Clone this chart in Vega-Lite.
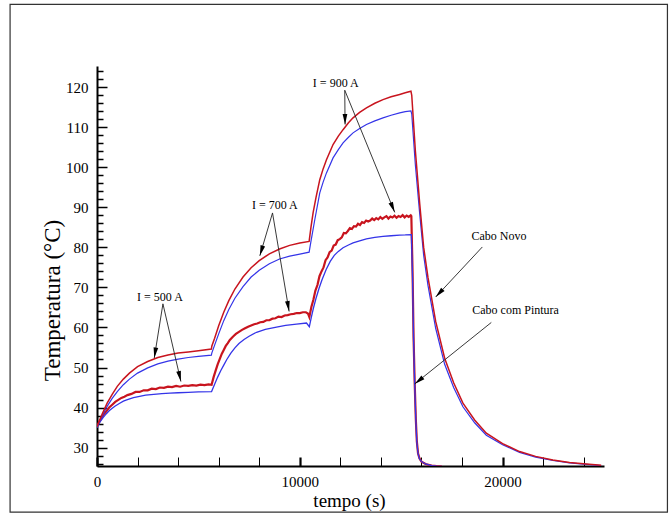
{
  "$schema": "https://vega.github.io/schema/vega-lite/v6.json",
  "width": 507,
  "height": 400,
  "autosize": "none",
  "padding": {"left": 97, "top": 66, "right": 66, "bottom": 51},
  "background": "white",
  "config": {"view": {"stroke": null}, "font": "Liberation Serif"},
  "datasets": {
    "curves": [
      {"s":"nr","t":0,"T":35.2},{"s":"nr","t":250,"T":38.3},{"s":"nr","t":500,"T":41.1},{"s":"nr","t":750,"T":43.3},{"s":"nr","t":1000,"T":45.3},{"s":"nr","t":1300,"T":47.1},{"s":"nr","t":1600,"T":48.6},{"s":"nr","t":2000,"T":50.2},{"s":"nr","t":2500,"T":51.5},{"s":"nr","t":3000,"T":52.5},{"s":"nr","t":3500,"T":53.1},{"s":"nr","t":4000,"T":53.6},{"s":"nr","t":4500,"T":53.9},{"s":"nr","t":5000,"T":54.2},{"s":"nr","t":5640,"T":54.6},
      {"s":"nr","t":5660,"T":55.3},{"s":"nr","t":5800,"T":57.3},{"s":"nr","t":6000,"T":60.4},{"s":"nr","t":6250,"T":63.8},{"s":"nr","t":6500,"T":66.7},{"s":"nr","t":6800,"T":69.6},{"s":"nr","t":7200,"T":72.6},{"s":"nr","t":7600,"T":74.9},{"s":"nr","t":8000,"T":76.7},{"s":"nr","t":8500,"T":78.4},{"s":"nr","t":9000,"T":79.6},{"s":"nr","t":9500,"T":80.5},{"s":"nr","t":10000,"T":81.1},{"s":"nr","t":10460,"T":81.5},
      {"s":"nr","t":10550,"T":85.0},{"s":"nr","t":10655,"T":88.6},{"s":"nr","t":10800,"T":92.5},{"s":"nr","t":10985,"T":96.9},{"s":"nr","t":11150,"T":99.6},{"s":"nr","t":11315,"T":101.9},{"s":"nr","t":11640,"T":105.7},{"s":"nr","t":11900,"T":107.8},{"s":"nr","t":12133,"T":109.4},{"s":"nr","t":12400,"T":111.1},{"s":"nr","t":12626,"T":112.35},{"s":"nr","t":12950,"T":113.7},{"s":"nr","t":13286,"T":114.85},{"s":"nr","t":13700,"T":116.0},{"s":"nr","t":14103,"T":116.9},{"s":"nr","t":14500,"T":117.6},{"s":"nr","t":14926,"T":118.2},{"s":"nr","t":15200,"T":118.6},{"s":"nr","t":15480,"T":119.0},
      {"s":"nr","t":15520,"T":118.0},{"s":"nr","t":15700,"T":104.0},{"s":"nr","t":15911,"T":91.0},{"s":"nr","t":16108,"T":80.0},{"s":"nr","t":16320,"T":72.5},{"s":"nr","t":16700,"T":61.5},{"s":"nr","t":17143,"T":52.3},{"s":"nr","t":17586,"T":46.2},{"s":"nr","t":18044,"T":41.1},{"s":"nr","t":18621,"T":36.9},{"s":"nr","t":19197,"T":33.6},{"s":"nr","t":20000,"T":31.0},{"s":"nr","t":20837,"T":29.0},{"s":"nr","t":21626,"T":27.8},{"s":"nr","t":22478,"T":26.9},{"s":"nr","t":23300,"T":26.3},{"s":"nr","t":24123,"T":25.9},{"s":"nr","t":24862,"T":25.6},

      {"s":"nb","t":0,"T":35.0},{"s":"nb","t":250,"T":37.8},{"s":"nb","t":500,"T":40.3},{"s":"nb","t":750,"T":42.3},{"s":"nb","t":1000,"T":44.0},{"s":"nb","t":1300,"T":45.7},{"s":"nb","t":1600,"T":47.1},{"s":"nb","t":2000,"T":48.6},{"s":"nb","t":2500,"T":49.9},{"s":"nb","t":3000,"T":50.9},{"s":"nb","t":3500,"T":51.6},{"s":"nb","t":4000,"T":52.1},{"s":"nb","t":4500,"T":52.5},{"s":"nb","t":5000,"T":52.8},{"s":"nb","t":5640,"T":53.1},
      {"s":"nb","t":5660,"T":53.6},{"s":"nb","t":5800,"T":55.6},{"s":"nb","t":6000,"T":58.4},{"s":"nb","t":6250,"T":61.7},{"s":"nb","t":6500,"T":64.5},{"s":"nb","t":6800,"T":67.3},{"s":"nb","t":7200,"T":70.2},{"s":"nb","t":7600,"T":72.6},{"s":"nb","t":8000,"T":74.3},{"s":"nb","t":8500,"T":75.9},{"s":"nb","t":9000,"T":77.1},{"s":"nb","t":9500,"T":77.8},{"s":"nb","t":10000,"T":78.3},{"s":"nb","t":10460,"T":78.8},
      {"s":"nb","t":10550,"T":81.5},{"s":"nb","t":10739,"T":86.9},{"s":"nb","t":10985,"T":93.6},{"s":"nb","t":11150,"T":96.3},{"s":"nb","t":11315,"T":98.6},{"s":"nb","t":11640,"T":102.35},{"s":"nb","t":11900,"T":104.4},{"s":"nb","t":12133,"T":106.1},{"s":"nb","t":12400,"T":107.5},{"s":"nb","t":12626,"T":108.6},{"s":"nb","t":12950,"T":109.7},{"s":"nb","t":13286,"T":110.7},{"s":"nb","t":13700,"T":111.6},{"s":"nb","t":14103,"T":112.35},{"s":"nb","t":14500,"T":113.0},{"s":"nb","t":14926,"T":113.6},{"s":"nb","t":15200,"T":113.9},{"s":"nb","t":15480,"T":114.1},
      {"s":"nb","t":15520,"T":113.3},{"s":"nb","t":15700,"T":100.5},{"s":"nb","t":15911,"T":88.5},{"s":"nb","t":16108,"T":78.0},{"s":"nb","t":16320,"T":70.5},{"s":"nb","t":16700,"T":59.8},{"s":"nb","t":17143,"T":50.8},{"s":"nb","t":17586,"T":45.0},{"s":"nb","t":18044,"T":40.2},{"s":"nb","t":18621,"T":36.2},{"s":"nb","t":19197,"T":33.1},{"s":"nb","t":20000,"T":30.7},{"s":"nb","t":20837,"T":28.8},{"s":"nb","t":21626,"T":27.6},{"s":"nb","t":22478,"T":26.8},{"s":"nb","t":23300,"T":26.2},{"s":"nb","t":24123,"T":25.8},{"s":"nb","t":24862,"T":25.5},

      {"s":"pr","t":0,"T":35.3},{"s":"pr","t":150,"T":36.8},{"s":"pr","t":300,"T":38.1},{"s":"pr","t":450,"T":39.0},{"s":"pr","t":600,"T":40.0},{"s":"pr","t":750,"T":40.7},{"s":"pr","t":900,"T":41.4},{"s":"pr","t":1050,"T":41.9},{"s":"pr","t":1200,"T":42.4},{"s":"pr","t":1350,"T":42.7},{"s":"pr","t":1500,"T":43.1},{"s":"pr","t":1700,"T":43.4},{"s":"pr","t":1900,"T":43.9},{"s":"pr","t":2100,"T":43.9},{"s":"pr","t":2300,"T":44.3},{"s":"pr","t":2500,"T":44.3},{"s":"pr","t":2700,"T":44.7},{"s":"pr","t":2900,"T":44.6},{"s":"pr","t":3100,"T":45.0},{"s":"pr","t":3300,"T":44.9},{"s":"pr","t":3500,"T":45.2},{"s":"pr","t":3700,"T":45.1},{"s":"pr","t":3900,"T":45.4},{"s":"pr","t":4100,"T":45.2},{"s":"pr","t":4300,"T":45.5},{"s":"pr","t":4500,"T":45.4},{"s":"pr","t":4700,"T":45.6},{"s":"pr","t":4900,"T":45.5},{"s":"pr","t":5100,"T":45.7},{"s":"pr","t":5300,"T":45.6},{"s":"pr","t":5500,"T":45.8},{"s":"pr","t":5650,"T":45.7},
      {"s":"pr","t":5750,"T":47.6},{"s":"pr","t":5850,"T":49.2},{"s":"pr","t":5950,"T":50.8},{"s":"pr","t":6050,"T":52.1},{"s":"pr","t":6150,"T":53.4},{"s":"pr","t":6250,"T":54.4},{"s":"pr","t":6350,"T":55.4},{"s":"pr","t":6450,"T":56.1},{"s":"pr","t":6550,"T":56.9},{"s":"pr","t":6700,"T":57.7},{"s":"pr","t":6850,"T":58.4},{"s":"pr","t":7000,"T":58.9},{"s":"pr","t":7150,"T":59.4},{"s":"pr","t":7300,"T":59.8},{"s":"pr","t":7450,"T":60.2},{"s":"pr","t":7600,"T":60.5},{"s":"pr","t":7750,"T":60.8},{"s":"pr","t":7900,"T":61.0},{"s":"pr","t":8050,"T":61.3},{"s":"pr","t":8200,"T":61.4},{"s":"pr","t":8350,"T":61.8},{"s":"pr","t":8500,"T":61.8},{"s":"pr","t":8650,"T":62.2},{"s":"pr","t":8800,"T":62.3},{"s":"pr","t":8950,"T":62.7},{"s":"pr","t":9100,"T":62.6},{"s":"pr","t":9250,"T":63.0},{"s":"pr","t":9400,"T":63.1},{"s":"pr","t":9550,"T":63.3},{"s":"pr","t":9700,"T":63.4},{"s":"pr","t":9850,"T":63.6},{"s":"pr","t":10000,"T":63.6},{"s":"pr","t":10150,"T":63.8},{"s":"pr","t":10300,"T":63.8},{"s":"pr","t":10400,"T":63.5},{"s":"pr","t":10470,"T":62.6},
      {"s":"pr","t":10570,"T":65.1},{"s":"pr","t":10670,"T":66.9},{"s":"pr","t":10770,"T":69.2},{"s":"pr","t":10870,"T":70.6},{"s":"pr","t":10970,"T":72.8},{"s":"pr","t":11070,"T":74.0},{"s":"pr","t":11170,"T":75.0},{"s":"pr","t":11270,"T":76.8},{"s":"pr","t":11370,"T":77.5},{"s":"pr","t":11470,"T":78.8},{"s":"pr","t":11570,"T":79.2},{"s":"pr","t":11670,"T":80.45},{"s":"pr","t":11770,"T":80.7},{"s":"pr","t":11870,"T":81.8},{"s":"pr","t":11970,"T":82.05},{"s":"pr","t":12070,"T":82.5},{"s":"pr","t":12170,"T":83.6},{"s":"pr","t":12270,"T":83.5},{"s":"pr","t":12370,"T":84.1},{"s":"pr","t":12470,"T":84.8},{"s":"pr","t":12570,"T":84.6},{"s":"pr","t":12670,"T":85.3},{"s":"pr","t":12770,"T":85.2},{"s":"pr","t":12870,"T":85.9},{"s":"pr","t":12970,"T":85.6},{"s":"pr","t":13070,"T":86.3},{"s":"pr","t":13170,"T":86.1},{"s":"pr","t":13270,"T":86.7},{"s":"pr","t":13370,"T":86.45},{"s":"pr","t":13470,"T":86.7},{"s":"pr","t":13570,"T":87.2},{"s":"pr","t":13670,"T":86.8},{"s":"pr","t":13770,"T":87.3},{"s":"pr","t":13870,"T":87.0},{"s":"pr","t":13970,"T":87.6},{"s":"pr","t":14070,"T":87.15},{"s":"pr","t":14170,"T":87.5},{"s":"pr","t":14270,"T":87.8},{"s":"pr","t":14370,"T":87.2},{"s":"pr","t":14470,"T":87.7},{"s":"pr","t":14570,"T":87.45},{"s":"pr","t":14670,"T":87.9},{"s":"pr","t":14770,"T":87.4},{"s":"pr","t":14870,"T":87.85},{"s":"pr","t":14970,"T":87.6},{"s":"pr","t":15070,"T":88.05},{"s":"pr","t":15170,"T":87.5},{"s":"pr","t":15270,"T":87.95},{"s":"pr","t":15370,"T":87.6},{"s":"pr","t":15470,"T":88.0},{"s":"pr","t":15500,"T":87.8},
      {"s":"pr","t":15560,"T":74.0},{"s":"pr","t":15610,"T":57.5},{"s":"pr","t":15665,"T":46.2},{"s":"pr","t":15720,"T":37.2},{"s":"pr","t":15770,"T":31.6},{"s":"pr","t":15830,"T":28.6},{"s":"pr","t":15900,"T":27.3},{"s":"pr","t":16000,"T":26.5},{"s":"pr","t":16200,"T":25.9},{"s":"pr","t":16500,"T":25.5},{"s":"pr","t":16750,"T":25.35},{"s":"pr","t":17000,"T":25.3},

      {"s":"pb","t":0,"T":35.0},{"s":"pb","t":150,"T":36.4},{"s":"pb","t":300,"T":37.5},{"s":"pb","t":450,"T":38.4},{"s":"pb","t":600,"T":39.2},{"s":"pb","t":750,"T":39.8},{"s":"pb","t":900,"T":40.4},{"s":"pb","t":1100,"T":41.0},{"s":"pb","t":1300,"T":41.6},{"s":"pb","t":1500,"T":42.0},{"s":"pb","t":1800,"T":42.5},{"s":"pb","t":2100,"T":42.8},{"s":"pb","t":2400,"T":43.1},{"s":"pb","t":2800,"T":43.3},{"s":"pb","t":3200,"T":43.5},{"s":"pb","t":3600,"T":43.6},{"s":"pb","t":4000,"T":43.7},{"s":"pb","t":4500,"T":43.8},{"s":"pb","t":5000,"T":43.9},{"s":"pb","t":5650,"T":44.0},
      {"s":"pb","t":5800,"T":45.8},{"s":"pb","t":5950,"T":47.6},{"s":"pb","t":6100,"T":49.2},{"s":"pb","t":6250,"T":50.6},{"s":"pb","t":6400,"T":52.0},{"s":"pb","t":6600,"T":53.6},{"s":"pb","t":6800,"T":54.9},{"s":"pb","t":7000,"T":56.0},{"s":"pb","t":7250,"T":57.0},{"s":"pb","t":7500,"T":57.8},{"s":"pb","t":7867,"T":58.8},{"s":"pb","t":8300,"T":59.5},{"s":"pb","t":8852,"T":60.1},{"s":"pb","t":9300,"T":60.5},{"s":"pb","t":9837,"T":60.85},{"s":"pb","t":10330,"T":61.1},{"s":"pb","t":10470,"T":60.2},
      {"s":"pb","t":10570,"T":62.6},{"s":"pb","t":10670,"T":64.8},{"s":"pb","t":10800,"T":67.3},{"s":"pb","t":10950,"T":69.8},{"s":"pb","t":11100,"T":72.0},{"s":"pb","t":11300,"T":74.5},{"s":"pb","t":11500,"T":76.5},{"s":"pb","t":11700,"T":78.0},{"s":"pb","t":11900,"T":79.0},{"s":"pb","t":12133,"T":79.9},{"s":"pb","t":12400,"T":80.6},{"s":"pb","t":12626,"T":81.1},{"s":"pb","t":12950,"T":81.6},{"s":"pb","t":13286,"T":82.1},{"s":"pb","t":13700,"T":82.5},{"s":"pb","t":14103,"T":82.75},{"s":"pb","t":14500,"T":82.9},{"s":"pb","t":14926,"T":83.05},{"s":"pb","t":15200,"T":83.1},{"s":"pb","t":15500,"T":83.2},
      {"s":"pb","t":15560,"T":72.5},{"s":"pb","t":15610,"T":57.0},{"s":"pb","t":15665,"T":45.8},{"s":"pb","t":15720,"T":37.0},{"s":"pb","t":15770,"T":31.4},{"s":"pb","t":15830,"T":28.5},{"s":"pb","t":15900,"T":27.2},{"s":"pb","t":16000,"T":26.5},{"s":"pb","t":16200,"T":25.9},{"s":"pb","t":16500,"T":25.5},{"s":"pb","t":16750,"T":25.35},{"s":"pb","t":17000,"T":25.3}
    ],
    "arrows": [
      {"t0":3251,"T0":65.9,"t":2823,"T":52.35},
      {"t0":3251,"T0":65.9,"t":4138,"T":46.5},
      {"t0":8655,"T0":88.6,"t":8030,"T":77.9},
      {"t0":8655,"T0":88.6,"t":9473,"T":64.0},
      {"t0":12217,"T0":119.25,"t":12232,"T":110.7},
      {"t0":12217,"T0":119.25,"t":14680,"T":88.75},
      {"t0":19000,"T0":80.1,"t":16700,"T":67.6},
      {"t0":19443,"T0":61.25,"t":15665,"T":45.9}
    ],
    "labels": [
      {"t":3103,"T":67.7,"label":"I = 500 A"},
      {"t":8768,"T":90.5,"label":"I = 700 A"},
      {"t":11773,"T":121.1,"label":"I = 900 A"},
      {"t":19818,"T":82.9,"label":"Cabo Novo"},
      {"t":20640,"T":64.25,"label":"Cabo com Pintura"}
    ],
    "frame": [
      {"t":-4286,"t2":28128,"T":140.7,"T2":13.9}
    ]
  },
  "encoding": {
    "x": {
      "field": "t", "type": "quantitative",
      "scale": {"domain": [0, 25000], "nice": false, "zero": false},
      "axis": {
        "values": [0,2000,4000,6000,8000,10000,12000,14000,16000,18000,20000,22000,24000],
        "format": "d",
        "labelExpr": "datum.value % 10000 === 0 ? datum.label : ''",
        "ticks": true,
        "tickSize": -9,
        "tickWidth": {"condition": {"test": "datum.value % 10000 === 0", "value": 2.2}, "value": 1},
        "tickColor": "black",
        "domainColor": "black", "domainWidth": 2,
        "labelFont": "Liberation Serif", "labelFontSize": 15, "labelColor": "black", "labelPadding": 17,
        "labelFlush": false, "labelOverlap": false,
        "grid": false,
        "title": "tempo (s)", "titleFont": "Liberation Serif", "titleFontSize": 19, "titleFontWeight": "normal", "titleColor": "black",
        "titleY": 34, "titleBaseline": "middle", "titleX": 252, "titleAlign": "center"
      }
    },
    "y": {
      "field": "T", "type": "quantitative",
      "scale": {"domain": [25.4, 125.3], "nice": false, "zero": false},
      "axis": {
        "values": [26,28,30,32,34,36,38,40,42,44,46,48,50,52,54,56,58,60,62,64,66,68,70,72,74,76,78,80,82,84,86,88,90,92,94,96,98,100,102,104,106,108,110,112,114,116,118,120,122,124],
        "labelExpr": "datum.value % 10 === 0 ? datum.label : ''",
        "ticks": true,
        "tickSize": {"condition": {"test": "datum.value % 10 === 0", "value": -10}, "value": -6},
        "tickWidth": 1.5,
        "tickColor": "black",
        "domainColor": "black", "domainWidth": 2,
        "labelFont": "Liberation Serif", "labelFontSize": 15, "labelColor": "black", "labelPadding": 19,
        "labelFlush": false, "labelOverlap": false,
        "grid": false,
        "title": "Temperatura (°C)", "titleFont": "Liberation Serif", "titleFontSize": 23, "titleFontWeight": "normal", "titleColor": "black",
        "titleX": -45, "titleY": 234, "titleAngle": 270, "titleAlign": "center", "titleBaseline": "middle"
      }
    }
  },
  "layer": [
    {
      "data": {"name": "frame"},
      "mark": {"type": "rect", "fill": null, "stroke": "#333333", "strokeWidth": 1.2, "clip": false},
      "encoding": {"x2": {"field": "t2"}, "y2": {"field": "T2"}}
    },
    {
      "data": {"name": "curves"},
      "transform": [{"filter": "datum.s === 'pr'"}],
      "mark": {"type": "line", "color": "#c8141e", "strokeWidth": 2.2, "clip": true},
      "encoding": {}
    },
    {
      "data": {"name": "curves"},
      "transform": [{"filter": "datum.s === 'pb'"}],
      "mark": {"type": "line", "color": "#3434e8", "strokeWidth": 1.3, "clip": true},
      "encoding": {}
    },
    {
      "data": {"name": "curves"},
      "transform": [{"filter": "datum.s === 'nb'"}],
      "mark": {"type": "line", "color": "#3434e8", "strokeWidth": 1.2, "clip": true},
      "encoding": {}
    },
    {
      "data": {"name": "curves"},
      "transform": [{"filter": "datum.s === 'nr'"}],
      "mark": {"type": "line", "color": "#c8141e", "strokeWidth": 1.5, "clip": true},
      "encoding": {}
    },
    {
      "data": {"name": "arrows"},
      "mark": {"type": "rule", "color": "#222222", "strokeWidth": 0.9},
      "encoding": {"x2": {"field": "t0"}, "y2": {"field": "T0"}}
    },
    {
      "data": {"name": "arrows"},
      "transform": [{"calculate": "atan2((datum.t - datum.t0) * 0.02028, (datum.T - datum.T0) * 4.004) * 180 / PI", "as": "ang"}],
      "mark": {"type": "point", "shape": "M0,0L0.45,2L-0.45,2Z", "filled": true, "color": "black", "opacity": 1, "size": 110, "strokeWidth": 0},
      "encoding": {"angle": {"field": "ang", "type": "quantitative", "scale": null}}
    },
    {
      "data": {"name": "labels"},
      "mark": {"type": "text", "font": "Liberation Serif", "fontSize": 12, "color": "black", "align": "center", "baseline": "middle"},
      "encoding": {"text": {"field": "label"}}
    }
  ]
}
